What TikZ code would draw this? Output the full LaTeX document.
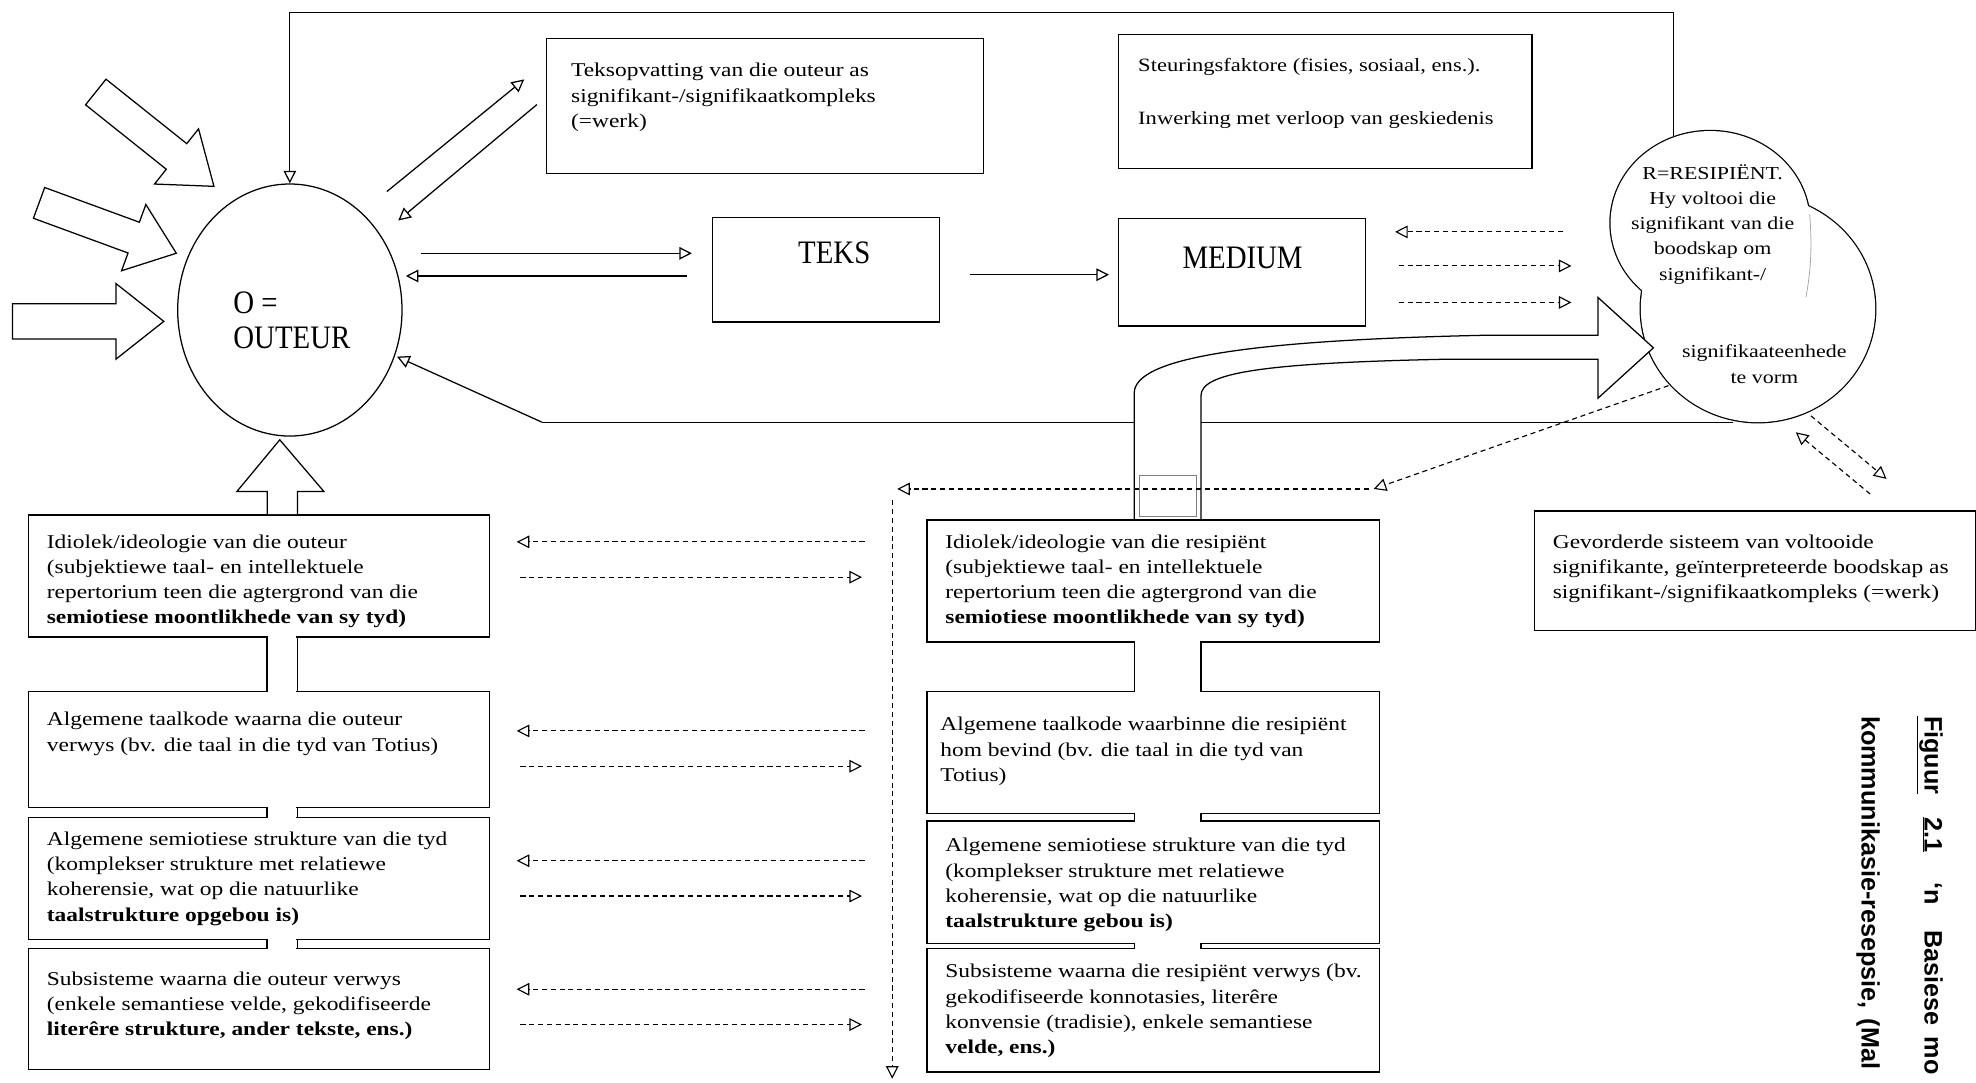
\documentclass[tikz,border=0pt]{standalone}
\usepackage{fontspec}
\setmainfont{Liberation Serif}[FakeStretch=1.2]
\newfontfamily\headfont{Liberation Serif}[FakeStretch=0.88]
\newfontfamily\capfont{Liberation Sans}
\usetikzlibrary{arrows.meta,shapes.geometric,calc}
\tikzset{
  box/.style={draw, line width=1.1pt, rectangle, anchor=north west, inner sep=0pt},
  body/.style={anchor=north west, inner sep=0pt, align=left, font=\fontsize{15.5}{20}\selectfont},
  cloudtxt/.style={inner sep=0pt, align=center, font=\fontsize{14.5}{20}\selectfont},
  headtxt/.style={inner sep=0pt, font=\headfont\fontsize{26}{28}\selectfont},
  conn/.style={line width=1pt, -{Triangle[open,length=10pt,width=10pt]}},
  dconn/.style={line width=0.9pt, dash pattern=on 4pt off 3pt, -{Triangle[open,length=10pt,width=10pt]}},
  blk/.style={line width=1pt, fill=white},
}
\newcommand\blkarrow[7]{%
  \begin{scope}[shift={(#1,#2)},rotate=#3]
    \draw[blk] (0,-#5) -- ({#4-#7},-#5) -- ({#4-#7},-#6) -- (#4,0) -- ({#4-#7},#6) -- ({#4-#7},#5) -- (0,#5) -- cycle;
  \end{scope}}
\begin{document}
\begin{tikzpicture}[x=1pt,y=-1pt]
\useasboundingbox (0,0) rectangle (1568,859);
\fill[white] (0,0) rectangle (1568,859);

% ---------- coordinates
\coordinate (Rtop) at (1328,108);
\coordinate (Rbot) at (1375,335);
\coordinate (fbk) at (430,335);
\coordinate (fbkTip) at (315,283);
\coordinate (d1a) at (307,152); \coordinate (d1b) at (416,63);
\coordinate (d2a) at (426,83);  \coordinate (d2b) at (316,175);
\coordinate (h1a) at (334,201); \coordinate (h1b) at (549,201);
\coordinate (h2a) at (545,219); \coordinate (h2b) at (322,219);
\coordinate (h3a) at (770,218); \coordinate (h3b) at (880,218);
\coordinate (m1a) at (1240,184); \coordinate (m1b) at (1107,184);
\coordinate (m2a) at (1110,211); \coordinate (m2b) at (1247,211);
\coordinate (m3a) at (1110,240); \coordinate (m3b) at (1247,240);
\coordinate (c1) at (1324,306); \coordinate (c2) at (1090,388);
\coordinate (c3) at (1086,388); \coordinate (c4) at (712,388);
\coordinate (c5) at (708,397);  \coordinate (c6) at (708,856);
\coordinate (e1a) at (1437,330); \coordinate (e1b) at (1497,380);
\coordinate (e2a) at (1484,392); \coordinate (e2b) at (1425,343);

% ---------- feedback lines
\draw[line width=1pt] (Rbot) -- (fbk);
\draw[conn] (fbk) -- (fbkTip);

% ---------- author circle
\node[ellipse, draw, line width=1pt, minimum width=178pt, minimum height=200pt, inner sep=0pt] (O) at (230,246) {};
\draw[conn] (Rtop) -- (1328,10) -| (O.north);
\node[headtxt, anchor=west, align=left] (Otxt) at (185,254) {O =\\OUTEUR};

% ---------- top boxes
\node[box, minimum width=347pt, minimum height=107pt] (tek) at (433,30) {};
\node[body] (tekT) at (453,50) {Teksopvatting van die outeur as\\signifikant-/signifikaatkompleks\\(=werk)};
\node[box, minimum width=328pt, minimum height=106pt] (ste) at (887,27) {};
\node[body, font=\fontsize{14.9}{20}\selectfont] (steT) at (903,46) {Steuringsfaktore (fisies, sosiaal, ens.).\\[22pt]Inwerking met verloop van geskiedenis};

\node[box, minimum width=180pt, minimum height=83pt] (teks) at (565,172) {};
\node[headtxt] (teksT) at (662,201) {TEKS};
\node[box, minimum width=196pt, minimum height=85pt] (med) at (887,173) {};
\node[headtxt] (medT) at (986,205) {MEDIUM};

\draw[conn] (d1a) -- (d1b);
\draw[conn] (d2a) -- (d2b);
\draw[conn] (h1a) -- (h1b);
\draw[conn] (h2a) -- (h2b);
\draw[conn] (h3a) -- (h3b);
\draw[dconn] (m1a) -- (m1b);
\draw[dconn] (m2a) -- (m2b);
\draw[dconn] (m3a) -- (m3b);

% ---------- recipient cloud
\draw[line width=2pt] (1357,177) ellipse [x radius=79pt, y radius=73pt];
\draw[line width=2pt] (1395,245) ellipse [x radius=93pt, y radius=90pt];
\fill[white] (1357,177) ellipse [x radius=79pt, y radius=73pt];
\fill[white] (1395,245) ellipse [x radius=93pt, y radius=90pt];
\draw[gray!70, line width=0.6pt] (1436,170) .. controls (1438,195) and (1437,215) .. (1433,236);
\node[cloudtxt] (Rtxt1) at (1359,178) {R=RESIPIËNT.\\Hy voltooi die\\signifikant van die\\boodskap om\\signifikant-/};
\node[cloudtxt] (Rtxt2) at (1400,289) {signifikaateenhede\\te vorm};

% ---------- big curved arrow
\draw[line width=1pt, fill=white] (900,412) -- (900,312) .. controls (900,284) and (990,270) .. (1180,266) -- (1268,266) -- (1268,236) -- (1312,276) -- (1268,316) -- (1268,285) -- (1150,285) .. controls (1000,288) and (953,296) .. (953,314) -- (953,412);
\draw[gray, line width=0.6pt] (904,377) rectangle (949,410);

% ---------- left column
\node[box, minimum width=366pt, minimum height=97pt] (L1) at (22,408) {};
\node[box, minimum width=366pt, minimum height=92pt] (L2) at (22,548) {};
\node[box, minimum width=366pt, minimum height=97pt] (L3) at (22,648) {};
\node[box, minimum width=366pt, minimum height=96pt] (L4) at (22,752) {};
\foreach \ya/\yb in {505/548, 640/648, 745/752} {
  \fill[white] (213,\ya-2) rectangle (235,\yb+2);
  \draw[line width=1.1pt] (212,\ya) -- (212,\yb) (236,\ya) -- (236,\yb);
}
\draw[blk] (212,408) -- (212,390) -- (188,390) -- (222,349) -- (257,390) -- (236,390) -- (236,408);

\node[body] (L1T) at (37,424) {Idiolek/ideologie van die outeur\\(subjektiewe taal- en intellektuele\\repertorium teen die agtergrond van die\\\textbf{semiotiese moontlikhede van sy tyd)}};
\node[body] (L2T) at (37,565) {Algemene taalkode waarna die outeur\\verwys (bv. die taal in die tyd van Totius)};
\node[body] (L3T) at (37,660) {Algemene semiotiese strukture van die tyd\\(komplekser strukture met relatiewe\\koherensie, wat op die natuurlike\\\textbf{taalstrukture opgebou is)}};
\node[body] (L4T) at (37,771) {Subsisteme waarna die outeur verwys\\(enkele semantiese velde, gekodifiseerde\\\textbf{literêre strukture, ander tekste, ens.)}};

% ---------- right column
\node[box, minimum width=359pt, minimum height=97pt] (R1) at (735,412) {};
\node[box, minimum width=359pt, minimum height=97pt] (R2) at (735,548) {};
\node[box, minimum width=359pt, minimum height=97pt] (R3) at (735,651) {};
\node[box, minimum width=359pt, minimum height=98pt] (R4) at (735,752) {};
\foreach \ya/\yb in {509/548, 645/651, 748/752} {
  \fill[white] (901,\ya-2) rectangle (952,\yb+2);
  \draw[line width=1.1pt] (900,\ya) -- (900,\yb) (953,\ya) -- (953,\yb);
}
\node[body] (R1T) at (750,424) {Idiolek/ideologie van die resipiënt\\(subjektiewe taal- en intellektuele\\repertorium teen die agtergrond van die\\\textbf{semiotiese moontlikhede van sy tyd)}};
\node[body] (R2T) at (746,569) {Algemene taalkode waarbinne die resipiënt\\hom bevind (bv. die taal in die tyd van\\Totius)};
\node[body] (R3T) at (750,665) {Algemene semiotiese strukture van die tyd\\(komplekser strukture met relatiewe\\koherensie, wat op die natuurlike\\\textbf{taalstrukture gebou is)}};
\node[body] (R4T) at (750,765) {Subsisteme waarna die resipiënt verwys (bv.\\gekodifiseerde konnotasies, literêre\\konvensie (tradisie), enkele semantiese\\\textbf{velde, ens.)}};

% ---------- advanced system box
\node[box, minimum width=350pt, minimum height=95pt] (gev) at (1217,405) {};
\node[body] (gevT) at (1232,424) {Gevorderde sisteem van voltooide\\signifikante, geïnterpreteerde boodskap as\\signifikant-/signifikaatkompleks (=werk)};

% ---------- dashed connectors
\foreach \ya/\yb in {430/458, 580/608, 683/711, 785/813} {
  \draw[dconn] (686,\ya) -- (410,\ya);
  \draw[dconn] (413,\yb) -- (684,\yb);
}
\draw[dconn] (c1) -- (c2);
\draw[dconn] (c3) -- (c4);
\draw[dconn] (c5) -- (c6);
\draw[dconn] (e1a) -- (e1b);
\draw[dconn] (e2a) -- (e2b);

% ---------- input block arrows
\blkarrow{10}{255}{0}{120}{14}{30}{38}
\blkarrow{31}{161}{-20.15}{116}{13}{28}{36}
\blkarrow{76}{73}{-38.6}{120}{13}{28}{38}

% ---------- caption
\node[rotate=-90, anchor=north west, inner sep=0pt, align=left, font=\capfont\bfseries\fontsize{20}{50}\selectfont] (cap) at (1542,568)
  {\underline{Figuur}\hspace{18pt}\underline{2.1}\hspace{24pt}‘n\hspace{20pt}Basiese\hspace{9pt}mo\\kommunikasie-resepsie,\hspace{8pt}(Mal};
\end{tikzpicture}
\end{document}
